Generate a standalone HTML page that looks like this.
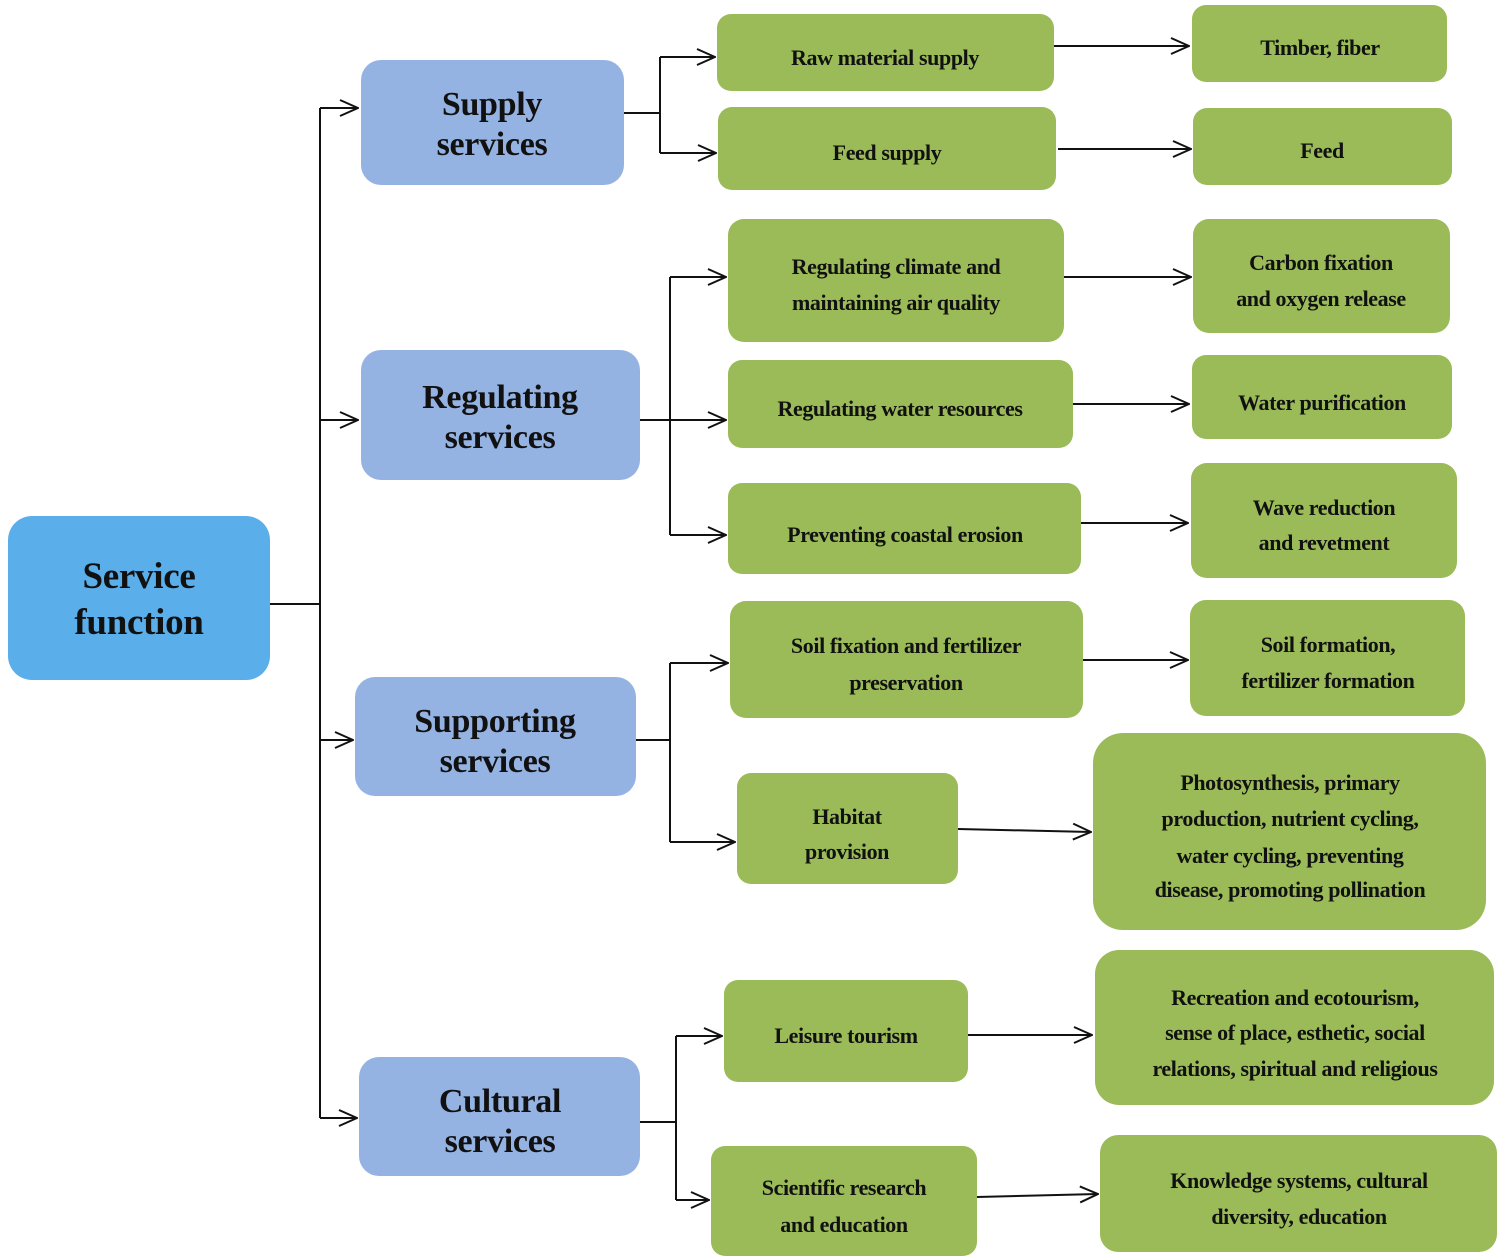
<!DOCTYPE html>
<html><head><meta charset="utf-8"><style>
html,body{margin:0;padding:0;background:#fff;width:1500px;height:1260px;overflow:hidden}
svg text{font-family:"Liberation Serif","Times New Roman",Times,"DejaVu Serif",serif;font-weight:bold;fill:#111;text-anchor:middle}
.g{fill:#9bbb59}.c{fill:#95b3e2}.r{fill:#5aaeea}
.t{font-size:22px;letter-spacing:-0.4px}
.b{font-size:34px;letter-spacing:-0.3px}
line,polyline{stroke:#111;stroke-width:2;fill:none}
</style></head><body>
<svg width="1500" height="1260" xmlns="http://www.w3.org/2000/svg" font-family="Liberation Serif, Times New Roman, serif">
<defs><marker id="a" viewBox="0 0 20 20" refX="19" refY="10" markerWidth="20" markerHeight="20" markerUnits="userSpaceOnUse" orient="auto"><polyline points="1,2 19,10 1,18" style="stroke:#111;stroke-width:2;fill:none"/></marker></defs>
<rect class="r" x="8" y="516" width="262" height="164" rx="24"/>
<text class="b" x="139" y="588" style="font-size:37px">Service</text>
<text class="b" x="139" y="634" style="font-size:37px">function</text>

<rect class="c" x="361" y="60" width="263" height="125" rx="20"/>
<text class="b" x="492" y="115">Supply</text><text class="b" x="492" y="155">services</text>
<rect class="c" x="361" y="350" width="279" height="130" rx="20"/>
<text class="b" x="500" y="408">Regulating</text><text class="b" x="500" y="448">services</text>
<rect class="c" x="355" y="677" width="281" height="119" rx="20"/>
<text class="b" x="495" y="732">Supporting</text><text class="b" x="495" y="772">services</text>
<rect class="c" x="359" y="1057" width="281" height="119" rx="20"/>
<text class="b" x="500" y="1112">Cultural</text><text class="b" x="500" y="1152">services</text>

<rect class="g" x="717" y="14" width="337" height="77" rx="14"/><text class="t" x="885" y="65">Raw material supply</text>
<rect class="g" x="718" y="107" width="338" height="83" rx="14"/><text class="t" x="887" y="160">Feed supply</text>
<rect class="g" x="728" y="219" width="336" height="123" rx="16"/><text class="t" x="896" y="274">Regulating climate and</text><text class="t" x="896" y="310">maintaining air quality</text>
<rect class="g" x="728" y="360" width="345" height="88" rx="14"/><text class="t" x="900" y="416">Regulating water resources</text>
<rect class="g" x="728" y="483" width="353" height="91" rx="14"/><text class="t" x="905" y="542">Preventing coastal erosion</text>
<rect class="g" x="730" y="601" width="353" height="117" rx="16"/><text class="t" x="906" y="653">Soil fixation and fertilizer</text><text class="t" x="906" y="690">preservation</text>
<rect class="g" x="737" y="773" width="221" height="111" rx="14"/><text class="t" x="847" y="824">Habitat</text><text class="t" x="847" y="859">provision</text>
<rect class="g" x="724" y="980" width="244" height="102" rx="14"/><text class="t" x="846" y="1043">Leisure tourism</text>
<rect class="g" x="711" y="1146" width="266" height="110" rx="14"/><text class="t" x="844" y="1195">Scientific research</text><text class="t" x="844" y="1232">and education</text>

<rect class="g" x="1192" y="5" width="255" height="77" rx="14"/><text class="t" x="1320" y="55">Timber, fiber</text>
<rect class="g" x="1193" y="108" width="259" height="77" rx="14"/><text class="t" x="1322" y="158">Feed</text>
<rect class="g" x="1193" y="219" width="257" height="114" rx="16"/><text class="t" x="1321" y="270">Carbon fixation</text><text class="t" x="1321" y="306">and oxygen release</text>
<rect class="g" x="1192" y="355" width="260" height="84" rx="14"/><text class="t" x="1322" y="410">Water purification</text>
<rect class="g" x="1191" y="463" width="266" height="115" rx="16"/><text class="t" x="1324" y="515">Wave reduction</text><text class="t" x="1324" y="550">and revetment</text>
<rect class="g" x="1190" y="600" width="275" height="116" rx="16"/><text class="t" x="1328" y="652">Soil formation,</text><text class="t" x="1328" y="688">fertilizer formation</text>
<rect class="g" x="1093" y="733" width="393" height="197" rx="30"/>
<text class="t" x="1290" y="790">Photosynthesis, primary</text><text class="t" x="1290" y="826">production, nutrient cycling,</text><text class="t" x="1290" y="863">water cycling, preventing</text><text class="t" x="1290" y="897">disease, promoting pollination</text>
<rect class="g" x="1095" y="950" width="399" height="155" rx="24"/>
<text class="t" x="1295" y="1005">Recreation and ecotourism,</text><text class="t" x="1295" y="1040">sense of place, esthetic, social</text><text class="t" x="1295" y="1076">relations, spiritual and religious</text>
<rect class="g" x="1100" y="1135" width="397" height="117" rx="18"/>
<text class="t" x="1299" y="1188">Knowledge systems, cultural</text><text class="t" x="1299" y="1224">diversity, education</text>

<line x1="270" y1="604" x2="320" y2="604"/>
<line x1="320" y1="108" x2="320" y2="1118"/>
<line x1="320" y1="108" x2="358" y2="108" marker-end="url(#a)"/>
<line x1="320" y1="420" x2="358" y2="420" marker-end="url(#a)"/>
<line x1="320" y1="740" x2="353" y2="740" marker-end="url(#a)"/>
<line x1="320" y1="1118" x2="357" y2="1118" marker-end="url(#a)"/>

<line x1="624" y1="113" x2="660" y2="113"/>
<line x1="660" y1="57" x2="660" y2="153"/>
<line x1="660" y1="57" x2="715" y2="57" marker-end="url(#a)"/>
<line x1="660" y1="153" x2="716" y2="153" marker-end="url(#a)"/>

<line x1="640" y1="420" x2="670" y2="420"/>
<line x1="670" y1="277" x2="670" y2="535"/>
<line x1="670" y1="277" x2="726" y2="277" marker-end="url(#a)"/>
<line x1="670" y1="420" x2="726" y2="420" marker-end="url(#a)"/>
<line x1="670" y1="535" x2="726" y2="535" marker-end="url(#a)"/>

<line x1="636" y1="740" x2="670" y2="740"/>
<line x1="670" y1="663" x2="670" y2="842"/>
<line x1="670" y1="663" x2="728" y2="663" marker-end="url(#a)"/>
<line x1="670" y1="842" x2="735" y2="842" marker-end="url(#a)"/>

<line x1="640" y1="1122" x2="676" y2="1122"/>
<line x1="676" y1="1036" x2="676" y2="1200"/>
<line x1="676" y1="1036" x2="722" y2="1036" marker-end="url(#a)"/>
<line x1="676" y1="1200" x2="709" y2="1200" marker-end="url(#a)"/>

<line x1="1054" y1="46" x2="1189" y2="46" marker-end="url(#a)"/>
<line x1="1058" y1="149" x2="1191" y2="149" marker-end="url(#a)"/>
<line x1="1064" y1="277" x2="1191" y2="277" marker-end="url(#a)"/>
<line x1="1073" y1="404" x2="1189" y2="404" marker-end="url(#a)"/>
<line x1="1081" y1="523" x2="1188" y2="523" marker-end="url(#a)"/>
<line x1="1083" y1="660" x2="1188" y2="660" marker-end="url(#a)"/>
<line x1="958" y1="829" x2="1091" y2="832" marker-end="url(#a)"/>
<line x1="968" y1="1035" x2="1092" y2="1035" marker-end="url(#a)"/>
<line x1="977" y1="1197" x2="1098" y2="1194" marker-end="url(#a)"/>
</svg>
</body></html>
